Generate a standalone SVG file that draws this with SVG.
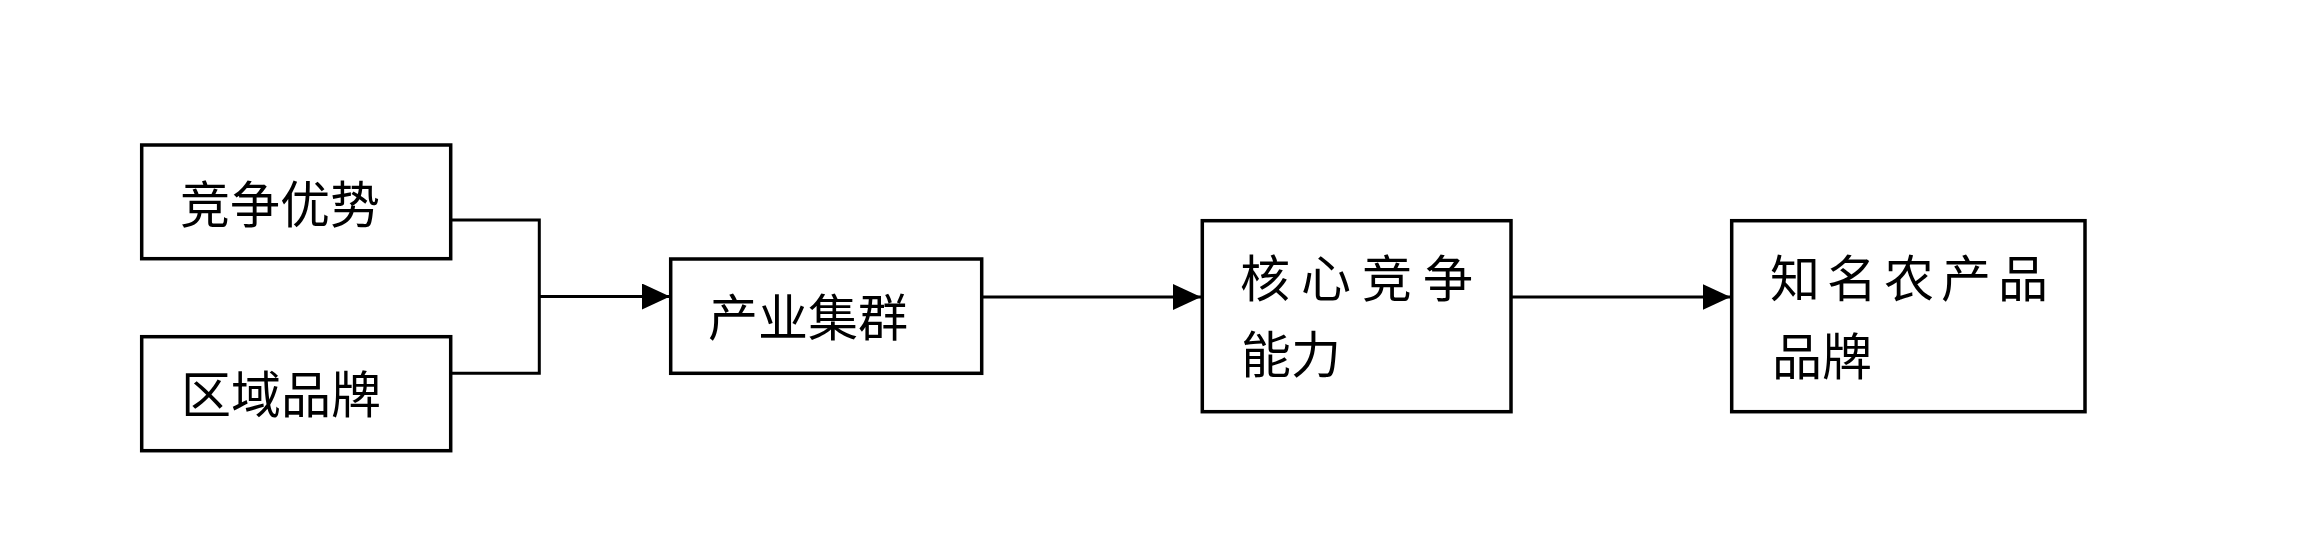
<svg xmlns="http://www.w3.org/2000/svg" width="2319" height="533" viewBox="0 0 2319 533">
<style>
.box{fill:#fff;stroke:#000;stroke-width:3.5}
.lbl{font-family:"Noto Sans CJK SC","Noto Sans CJK JP",sans-serif;font-size:50px;fill:#000}
.ln{fill:none;stroke:#000;stroke-width:3}
</style>
<defs>
<marker id="arr" markerUnits="userSpaceOnUse" markerWidth="28" markerHeight="26" refX="28" refY="13" orient="auto">
<path d="M0,0 L28,13 L0,26 z" fill="#000"/>
</marker>
</defs>
<rect width="2319" height="533" fill="#fff"/>
<g id="connectors">
<path class="ln" d="M450.7,220 H539.3 V373.3 H450.7"/>
<path class="ln" d="M539.3,296.5 H670" marker-end="url(#arr)"/>
<path class="ln" d="M981.7,297 H1201" marker-end="url(#arr)"/>
<path class="ln" d="M1511,297 H1730.5" marker-end="url(#arr)"/>
</g>
<g id="node-jingzheng">
<rect class="box" x="141.7" y="145" width="309" height="113.7"/>
<text class="lbl" x="180" y="223">竞争优势</text>
</g>
<g id="node-quyu">
<rect class="box" x="141.7" y="336.7" width="309" height="114"/>
<text class="lbl" x="181" y="413">区域品牌</text>
</g>
<g id="node-chanye">
<rect class="box" x="670.7" y="259" width="311" height="114.3"/>
<text class="lbl" x="708" y="335.5">产业集群</text>
</g>
<g id="node-hexin">
<rect class="box" x="1202.3" y="220.7" width="308.7" height="191"/>
<text class="lbl" x="1240" y="297" letter-spacing="11">核心竞争</text>
<text class="lbl" x="1241" y="373">能力</text>
</g>
<g id="node-zhiming">
<rect class="box" x="1731.7" y="220.7" width="353.3" height="191"/>
<text class="lbl" x="1770" y="297" letter-spacing="7">知名农产品</text>
<text class="lbl" x="1772" y="375">品牌</text>
</g>
</svg>
